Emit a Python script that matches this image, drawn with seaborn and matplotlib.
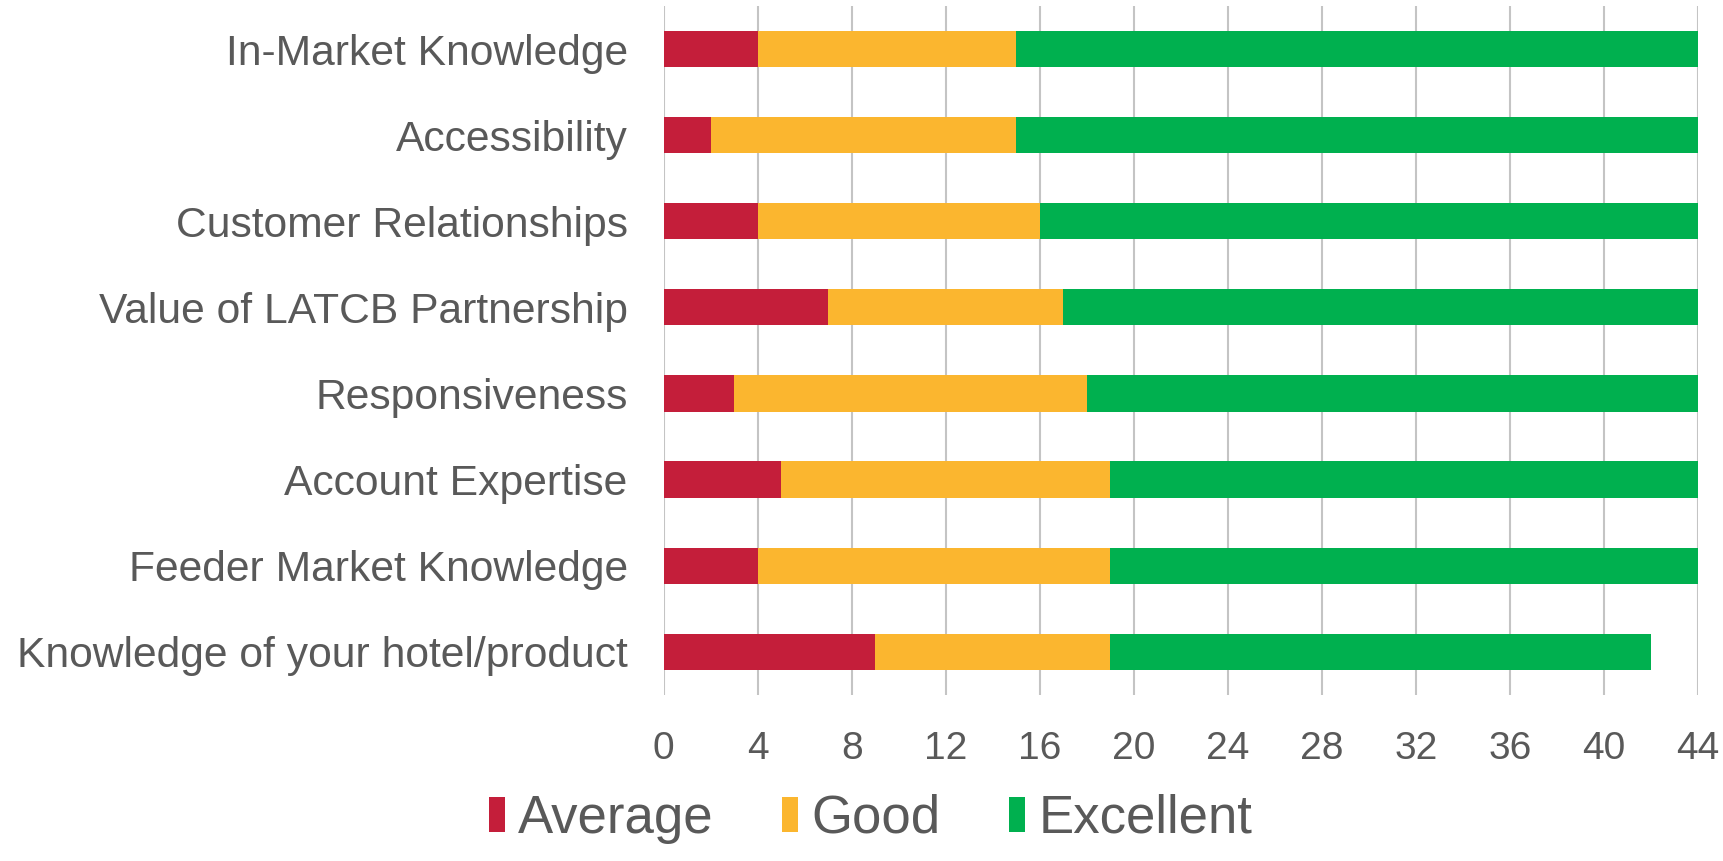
import matplotlib
matplotlib.use("Agg")
import matplotlib.pyplot as plt
from matplotlib import font_manager
import seaborn as sns
import pandas as pd
from matplotlib.patches import Patch

categories = [
    "In-Market Knowledge",
    "Accessibility",
    "Customer Relationships",
    "Value of LATCB Partnership",
    "Responsiveness",
    "Account Expertise",
    "Feeder Market Knowledge",
    "Knowledge of your hotel/product",
]
average = [4, 2, 4, 7, 3, 5, 4, 9]
good = [11, 13, 12, 10, 15, 14, 15, 10]
excellent = [29, 29, 28, 27, 26, 25, 25, 23]
series_names = ["Average", "Good", "Excellent"]
colors = ["#C41E3A", "#FBB62F", "#00B04F"]
xticks = list(range(0, 45, 4))

sns.set_theme(style="white")
plt.rcParams["font.family"] = ["Liberation Sans", "DejaVu Sans"]

available = {f.name for f in font_manager.fontManager.ttflist}
narrow = "Liberation Sans Narrow" if "Liberation Sans Narrow" in available else "Liberation Sans"
legend_size = 42 if narrow == "Liberation Sans Narrow" else 38

df = pd.DataFrame({"cat": categories, "Average": average, "Good": good, "Excellent": excellent})
df["c1"] = df["Average"]
df["c2"] = df["Average"] + df["Good"]
df["c3"] = df["c2"] + df["Excellent"]

fig = plt.figure(figsize=(17.24, 8.61), dpi=100)
ax = fig.add_axes([0.385, 0.193, 0.6, 0.80])

for col, color in zip(["c3", "c2", "c1"], [colors[2], colors[1], colors[0]]):
    sns.barplot(data=df, x=col, y="cat", orient="h", color=color, width=0.42,
                ax=ax, saturation=1, zorder=3, edgecolor="none")

ax.set_xlim(0, 44)
ax.set_xticks(xticks)
ax.set_xticklabels([str(t) for t in xticks])
ax.xaxis.grid(True, color="#C4C4C4", linewidth=1.5, zorder=0)
ax.set_axisbelow(True)
for s in ax.spines.values():
    s.set_visible(False)
ax.set_xlabel("")
ax.set_ylabel("")
ax.tick_params(axis="x", labelsize=28, colors="#595959", length=0, pad=26)
ax.tick_params(axis="y", labelsize=30.7, colors="#595959", length=0, pad=26)
for lbl in ax.get_xticklabels() + ax.get_yticklabels():
    lbl.set_color("#595959")

handles = [Patch(facecolor=c, edgecolor="none") for c in colors]
leg = fig.legend(handles, series_names, loc="center", bbox_to_anchor=(0.505, 0.049),
                 ncol=3, frameon=False, handlelength=0.3, handleheight=0.65,
                 handletextpad=0.25, columnspacing=1.3,
                 prop={"family": narrow, "size": legend_size})
for t in leg.get_texts():
    t.set_color("#595959")

fig.savefig("out.png", dpi=100)
